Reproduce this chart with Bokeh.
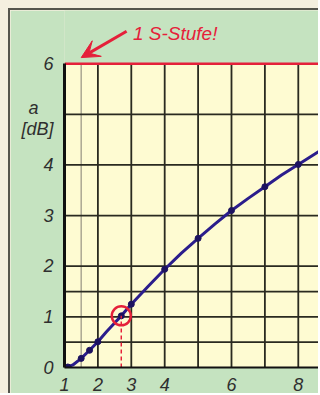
from bokeh.plotting import figure
from bokeh.models import (Range1d, FixedTicker, Label, Arrow, VeeHead,
                          BoxAnnotation, ColumnDataSource)
from bokeh.layouts import column
from bokeh.embed import file_html
from bokeh.resources import INLINE

# Mismatch loss a [dB] versus SWR
swr_curve = [1.0, 1.1, 1.25, 1.5, 1.75, 2.0, 2.25, 2.5, 2.7, 3.0, 3.5, 4.0,
             4.5, 5.0, 5.5, 6.0, 6.5, 7.0, 7.5, 8.0, 8.7]
loss_curve = [0.0, 0.01, 0.05, 0.18, 0.34, 0.51, 0.70, 0.88, 1.02, 1.25, 1.60,
              1.94, 2.26, 2.55, 2.83, 3.10, 3.34, 3.57, 3.80, 4.01, 4.30]

swr_points = [1.1, 1.5, 1.75, 2.0, 2.7, 3.0, 4.0, 5.0, 6.0, 7.0, 8.0]
loss_points = [0.01, 0.18, 0.34, 0.51, 1.02, 1.25, 1.94, 2.55, 3.10, 3.57, 4.01]

# 1 dB point, highlighted
mark_swr = [2.7]
mark_loss = [1.02]

x_ticks = [1, 2, 3, 4, 6, 8]
y_ticks = [0, 1, 2, 3, 4, 6]
x_grid = [2, 3, 4, 5, 6, 7, 8]
y_grid = [0.5, 1, 1.5, 2, 3, 4, 5]
x_fine = [1.5]
y_top = 6

# y-axis title, set as two label rows next to the axis
title_rows = {5.13: "a\u00a0\u00a0\u00a0", 4.71: "[dB]"}

CREAM = "#f4efdf"
GREEN = "#c5e3c0"
PAPER = "#fefbd2"
INK = "#2a2a20"
RED = "#e5203a"
BLUE = "#2b1d8c"
TEXT = "#2f2f2f"
FONT = "Liberation Sans"

X_MIN, X_MAX = 1, 8.665
Y_MIN, Y_MAX = 0, 7.05

p = figure(width=310, height=385, output_backend="svg", toolbar_location=None,
           title=None, x_range=Range1d(X_MIN, X_MAX),
           y_range=Range1d(Y_MIN, Y_MAX),
           min_border_left=54, min_border_top=0, min_border_bottom=28,
           min_border_right=0)
p.margin = (8, 0, 0, 8)
p.styles = {"border-top": "2px solid #55554d", "border-left": "2px solid #55554d"}
p.border_fill_color = GREEN
p.background_fill_color = GREEN
p.outline_line_color = None
p.xgrid.visible = False
p.ygrid.visible = False

# chart paper below the 6 dB line
p.add_layout(BoxAnnotation(left=X_MIN, bottom=Y_MIN, top=y_top,
                           fill_color=PAPER, fill_alpha=1.0,
                           line_color=None, level="underlay"))

# grid lines
p.segment(x0=x_fine, y0=[Y_MIN], x1=x_fine, y1=[y_top],
          line_color="#aba792", line_width=1.5)
p.segment(x0=x_grid, y0=[Y_MIN] * len(x_grid), x1=x_grid,
          y1=[y_top] * len(x_grid), line_color=INK, line_width=1.8)
p.segment(x0=[X_MIN] * len(y_grid), y0=y_grid, x1=[X_MAX] * len(y_grid),
          y1=y_grid, line_color=INK, line_width=1.8)
p.segment(x0=[X_MIN], y0=[y_top], x1=[X_MAX], y1=[y_top],
          line_color=RED, line_width=2.5)

# axes
p.xaxis.ticker = FixedTicker(ticks=x_ticks)
p.yaxis.ticker = FixedTicker(ticks=y_ticks + list(title_rows))
p.yaxis.major_label_overrides = title_rows
p.yaxis.bounds = (Y_MIN, y_top)
for ax in (p.xaxis, p.yaxis):
    ax.axis_line_color = "#111111"
    ax.major_tick_line_color = None
    ax.minor_tick_line_color = None
    ax.major_label_text_font = FONT
    ax.major_label_text_font_style = "italic"
    ax.major_label_text_font_size = "18px"
    ax.major_label_text_color = TEXT
p.xaxis.axis_line_width = 2
p.yaxis.axis_line_width = 3
p.xaxis.major_label_standoff = 4
p.yaxis.major_label_standoff = 5

# curve and points
p.line(swr_curve, loss_curve, line_color=BLUE, line_width=3)
p.scatter(swr_points, loss_points, size=6, color="#1c1260")

# highlighted 1 dB point with drop line
src = ColumnDataSource(dict(x=mark_swr, y=mark_loss, y0=[Y_MIN]))
p.segment(x0="x", y0="y0", x1="x", y1="y", source=src, line_color=RED,
          line_width=1.5, line_dash="4 3")
p.scatter(x="x", y="y", source=src, size=19, fill_color=None,
          line_color=RED, line_width=2.5)

# note with arrow
p.add_layout(Label(x=3.05, y=6.59, text="1 S-Stufe!", text_align="left",
                   text_baseline="alphabetic", text_font=FONT,
                   text_font_style="italic", text_font_size="19px",
                   text_color=RED))
p.add_layout(Arrow(x_start=2.86, y_start=6.64, x_end=1.5, y_end=6.12,
                   line_color=RED, line_width=3,
                   end=VeeHead(size=18, fill_color=RED, line_color=RED)))

root = column(p, styles={"background-color": CREAM})
open("out.html", "w").write(file_html(root, INLINE))
